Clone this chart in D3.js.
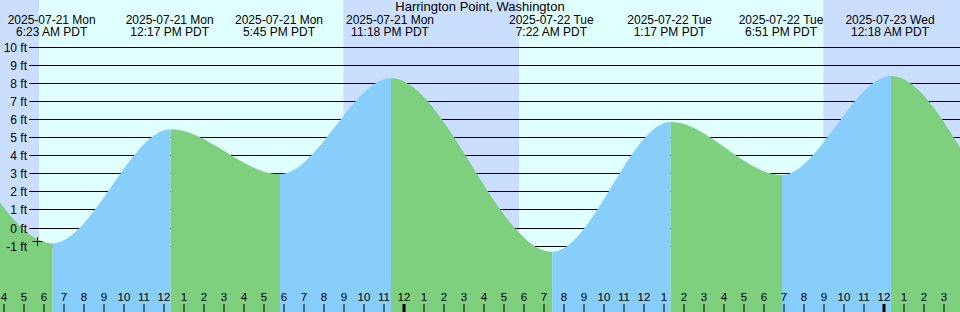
<!DOCTYPE html>
<html>
<head>
<meta charset="utf-8">
<script src="https://cdn.jsdelivr.net/npm/d3@7"></script>
<style>
html,body{margin:0;padding:0;background:#fff;}
svg{display:block;font-family:"Liberation Sans",Arial,sans-serif;}
</style>
</head>
<body>
<svg id="chart" width="960" height="312"></svg>
<script>
// ---- data ----
const title = "Harrington Point, Washington";
const eventTimes = ["2025-07-20T17:10","2025-07-20T22:30","2025-07-21T06:23","2025-07-21T12:17","2025-07-21T17:45","2025-07-21T23:18","2025-07-22T07:22","2025-07-22T13:17","2025-07-22T18:51","2025-07-23T00:18","2025-07-23T08:15","2025-07-23T14:20"];
const eventHeights = [3.2, 7.8, -0.87, 5.43, 2.95, 8.24, -1.34, 5.83, 2.9, 8.37, -1.5, 6.2];
const labelDates = ["2025-07-21 Mon","2025-07-21 Mon","2025-07-21 Mon","2025-07-21 Mon","2025-07-22 Tue","2025-07-22 Tue","2025-07-22 Tue","2025-07-23 Wed"];
const labelTimes = ["6:23 AM PDT","12:17 PM PDT","5:45 PM PDT","11:18 PM PDT","7:22 AM PDT","1:17 PM PDT","6:51 PM PDT","12:18 AM PDT"];
const sunriseTimes = ["2025-07-21T05:46","2025-07-22T05:46"];
const sunsetTimes = ["2025-07-21T20:58","2025-07-22T20:58"];
const yTicks = [-1,0,1,2,3,4,5,6,7,8,9,10];
const viewStart = "2025-07-21T03:48";
const viewEnd = "2025-07-23T03:48";
const markerTime = "2025-07-21T05:40";
const markerFt = -0.75;

// ---- setup ----
const W = 960, H = 312;
const parse = d3.utcParse("%Y-%m-%dT%H:%M");
const t0 = parse(viewStart), t1 = parse(viewEnd);
const x = d3.scaleUtc().domain([t0, t1]).range([0, W]);
const y = d3.scaleLinear().domain([0, 10]).range([227.5, 46.5]);

const col = {night:"#cadfff", day:"#e0ffff", rise:"#87cefa", fall:"#7ecf7e"};
const svg = d3.select("#chart");

// background bands
const sr = sunriseTimes.map(parse), ss = sunsetTimes.map(parse);
const bands = [
  {a:t0, b:sr[0], c:col.night},
  {a:sr[0], b:ss[0], c:col.day},
  {a:ss[0], b:sr[1], c:col.night},
  {a:sr[1], b:ss[1], c:col.day},
  {a:ss[1], b:t1, c:col.night}
];
svg.append("g").selectAll("rect").data(bands).join("rect")
  .attr("x", d => x(d.a)).attr("y", 0)
  .attr("width", d => x(d.b) - x(d.a)).attr("height", H)
  .attr("fill", d => d.c);

// grid lines
svg.append("g").selectAll("line").data(yTicks).join("line")
  .attr("x1", 29).attr("x2", W)
  .attr("y1", d => Math.round(y(d)) + 0.5).attr("y2", d => Math.round(y(d)) + 0.5)
  .attr("stroke", "#000").attr("stroke-width", 1);

// tide area
const pts = eventTimes.map((t, i) => ({t: parse(t), h: eventHeights[i]}));
const area = d3.area().x(d => x(d.t) + 1).y0(H).y1(d => y(d.h)).curve(d3.curveMonotoneX);
svg.append("clipPath").attr("id", "tideClip").append("path").attr("d", area(pts));
const segs = d3.pairs(pts);
svg.append("g").attr("clip-path", "url(#tideClip)").selectAll("rect").data(segs).join("rect")
  .attr("x", d => x(d[0].t) + 1).attr("y", 0)
  .attr("width", d => x(d[1].t) - x(d[0].t)).attr("height", H)
  .attr("fill", d => d[1].h > d[0].h ? col.rise : col.fall);

// y labels
svg.append("g").selectAll("text").data(yTicks).join("text")
  .attr("x", 27).attr("y", d => Math.round(y(d)) + 0.5)
  .attr("dy", "0.36em").attr("text-anchor", "end")
  .attr("font-size", 12).attr("fill", "#000")
  .text(d => d + " ft");

// hour ticks and labels
const hours = x.ticks(d3.utcHour.every(1)).filter(d => x(d) >= 0 && x(d) <= W);
const hg = svg.append("g");
hg.selectAll("rect").data(hours).join("rect")
  .attr("x", d => d.getUTCHours() === 0 ? Math.round(x(d)) - 1.5 : Math.round(x(d)) - 0.5)
  .attr("y", 304).attr("height", 8)
  .attr("width", d => d.getUTCHours() === 0 ? 3 : 1)
  .attr("fill", "#000");
hg.selectAll("text").data(hours).join("text")
  .attr("x", d => Math.round(x(d))).attr("y", 301)
  .attr("text-anchor", "middle").attr("font-size", 11.5).attr("fill", "#000")
  .text(d => (d.getUTCHours() % 12) || 12);

// marker
const mx = Math.round(x(parse(markerTime))) + 0.5, my = Math.round(y(markerFt)) + 0.5;
svg.append("path")
  .attr("d", `M${mx - 5},${my}H${mx + 5}M${mx},${my - 4.5}V${my + 4.5}`)
  .attr("stroke", "#000").attr("stroke-width", 1).attr("fill", "none");

// title
svg.append("text").attr("x", W / 2).attr("y", 11)
  .attr("text-anchor", "middle").attr("font-size", 13).attr("fill", "#000")
  .text(title);

// event labels (the visible events are indices 2..9)
const visible = pts.slice(2, 10);
const lg = svg.append("g").selectAll("g").data(visible).join("g")
  .attr("transform", d => `translate(${x(d.t)},0)`);
lg.append("text").attr("y", 23.5).attr("text-anchor", "middle")
  .attr("font-size", 12).attr("fill", "#000").text((d, i) => labelDates[i]);
lg.append("text").attr("y", 36).attr("text-anchor", "middle")
  .attr("font-size", 12).attr("fill", "#000").text((d, i) => labelTimes[i]);
</script>
</body>
</html>
